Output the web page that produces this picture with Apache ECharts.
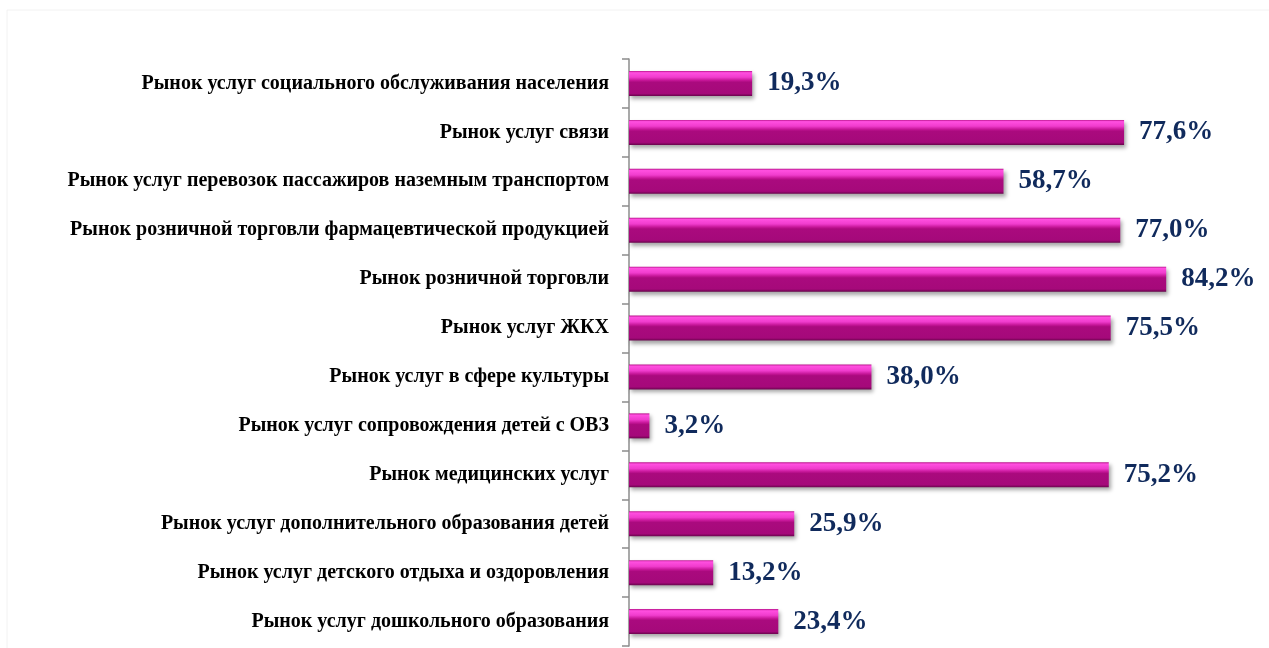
<!DOCTYPE html>
<html>
<head>
<meta charset="utf-8">
<script src="https://cdn.jsdelivr.net/npm/echarts@6/dist/echarts.min.js"></script>
<style>
  html, body { margin: 0; padding: 0; background: #fff; }
  #chart { width: 1269px; height: 648px; }
</style>
</head>
<body>
<div id="chart"></div>
<script>
const categories = [
  'Рынок услуг социального обслуживания населения',
  'Рынок услуг связи',
  'Рынок услуг перевозок пассажиров наземным транспортом',
  'Рынок розничной торговли фармацевтической продукцией',
  'Рынок розничной торговли',
  'Рынок услуг ЖКХ',
  'Рынок услуг в сфере культуры',
  'Рынок услуг сопровождения детей с ОВЗ',
  'Рынок медицинских услуг',
  'Рынок услуг дополнительного образования детей',
  'Рынок услуг детского отдыха и оздоровления',
  'Рынок услуг дошкольного образования'
]
const shares = [19.3, 77.6, 58.7, 77.0, 84.2, 75.5, 38.0, 3.2, 75.2, 25.9, 13.2, 23.4]

const chart = echarts.init(document.getElementById('chart'))

const option = {
  animation: false,
  graphic: [
    {
      type: 'rect',
      shape: { x: 7, y: 10, width: 1300, height: 700 },
      style: { fill: 'none', stroke: '#f2f2f2', lineWidth: 1 },
      silent: true
    }
  ],
  grid: {
    left: 629,
    top: 59,
    width: 638,
    bottom: 2
  },
  xAxis: {
    type: 'value',
    min: 0,
    max: 100,
    show: false
  },
  yAxis: {
    type: 'category',
    inverse: true,
    data: categories,
    axisLine: { show: true, lineStyle: { color: '#8c8c8c', width: 1.5 } },
    axisTick: { show: true, inside: false, length: 7, lineStyle: { color: '#8c8c8c', width: 1.5 } },
    axisLabel: {
      margin: 20,
      color: '#000',
      fontFamily: 'Liberation Serif',
      fontWeight: 'bold',
      fontSize: 20
    }
  },
  series: [
    {
      type: 'bar',
      data: shares,
      barWidth: 25,
      itemStyle: {
        color: new echarts.graphic.LinearGradient(0, 0, 0, 1, [
          { offset: 0, color: '#b8128a' },
          { offset: 0.07, color: '#ff4fe0' },
          { offset: 0.25, color: '#f03ccd' },
          { offset: 0.38, color: '#c41596' },
          { offset: 0.45, color: '#aa0a7e' },
          { offset: 0.9, color: '#a5097a' },
          { offset: 1, color: '#6a044d' }
        ]),
        shadowColor: 'rgba(0,0,0,0.35)',
        shadowBlur: 4,
        shadowOffsetX: 2,
        shadowOffsetY: 3
      },
      label: {
        show: true,
        position: 'right',
        distance: 15,
        color: '#102a5c',
        fontFamily: 'Liberation Serif',
        fontWeight: 'bold',
        fontSize: 27,
        formatter: p => p.value.toFixed(1).replace('.', ',') + '%'
      }
    }
  ]
}

chart.setOption(option)
</script>
</body>
</html>
